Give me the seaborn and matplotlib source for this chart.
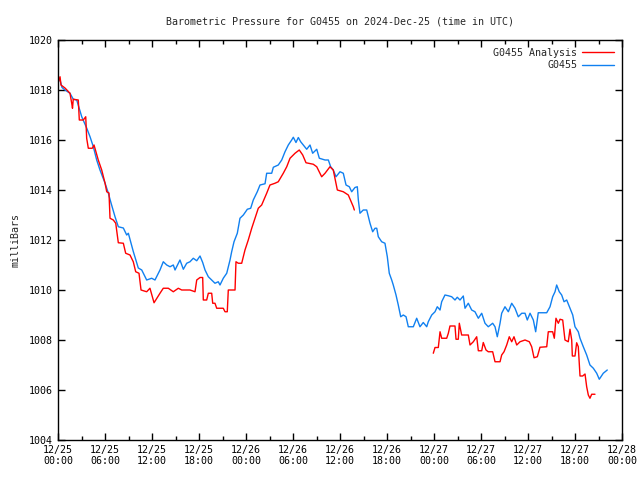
import numpy as np
import pandas as pd
import matplotlib
matplotlib.use("Agg")
import matplotlib.pyplot as plt
import matplotlib.dates as mdates
import seaborn as sns

# Hours since 2024-12-25 00:00 UTC and pressure in mb
obs_hours = [0.0, 0.26, 0.51, 0.89, 1.53, 1.95, 2.39, 3.03, 3.66, 4.09, 4.51, 4.94, 5.36, 6.0, 6.42,
             6.77, 7.28, 7.70, 8.34, 8.77, 8.98, 9.62, 10.25, 10.69, 11.32, 11.96, 12.38, 13.02, 13.44,
             13.88, 14.30, 14.72, 14.94, 15.57, 16.0, 16.43, 16.85, 17.27, 17.71, 18.13, 18.47, 18.77,
             19.19, 19.62, 20.04, 20.46, 20.68, 21.10, 21.54, 21.96, 22.17, 22.47, 22.89, 23.23, 23.66,
             24.17, 24.60, 24.93, 25.44, 25.79, 26.43, 26.64, 27.28, 27.49, 28.12, 28.56, 28.98, 29.40,
             29.83, 30.04, 30.38, 30.68, 30.98, 31.31, 31.75, 32.17, 32.51, 33.03, 33.36, 34.09, 34.51,
             34.81, 35.14, 35.49, 36.0, 36.42, 36.77, 37.19, 37.49, 37.91, 38.21, 38.34, 38.55, 38.97,
             39.41, 39.83, 40.17, 40.47, 40.69, 40.89, 41.32, 41.74, 42.04, 42.29, 42.60, 42.80, 43.15,
             43.44, 43.75, 44.08, 44.43, 44.72, 45.36, 45.79, 46.21, 46.63, 47.07, 47.27, 47.71, 48.13,
             48.42, 48.77, 48.98, 49.40, 49.83, 50.26, 50.68, 50.97, 51.32, 51.74, 51.96, 52.38, 52.81,
             53.23, 53.66, 54.09, 54.51, 54.93, 55.49, 55.79, 56.08, 56.43, 56.64, 57.06, 57.49, 57.92,
             58.34, 58.76, 59.20, 59.62, 59.91, 60.26, 60.68, 60.98, 61.31, 62.39, 62.81, 63.15, 63.45,
             63.66, 63.99, 64.30, 64.60, 64.94, 65.36, 65.71, 66.0, 66.42, 66.64, 67.06, 67.49, 67.91,
             68.34, 68.77, 69.10, 69.61, 70.12]
obs_mb = [1018.45, 1018.4, 1018.1, 1018.0, 1017.87, 1017.63, 1017.6, 1016.93, 1016.48, 1016.13, 1015.73,
          1015.2, 1014.8, 1014.28, 1013.88, 1013.48, 1012.93, 1012.53, 1012.48, 1012.2, 1012.27, 1011.53,
          1010.88, 1010.8, 1010.4, 1010.47, 1010.4, 1010.8, 1011.13, 1011.0, 1010.93, 1011.0, 1010.8,
          1011.2, 1010.83, 1011.07, 1011.13, 1011.27, 1011.17, 1011.36, 1011.1, 1010.8, 1010.53, 1010.4,
          1010.27, 1010.33, 1010.2, 1010.47, 1010.67, 1011.2, 1011.53, 1011.93, 1012.27, 1012.87, 1013.0,
          1013.23, 1013.27, 1013.6, 1013.93, 1014.2, 1014.25, 1014.67, 1014.67, 1014.91, 1015.0, 1015.2,
          1015.53, 1015.8, 1016.0, 1016.11, 1015.9, 1016.1, 1015.93, 1015.8, 1015.63, 1015.8, 1015.47,
          1015.63, 1015.27, 1015.2, 1015.2, 1014.93, 1014.8, 1014.53, 1014.73, 1014.67, 1014.2, 1014.13,
          1013.93, 1014.1, 1014.13, 1013.6, 1013.07, 1013.2, 1013.2, 1012.67, 1012.33, 1012.47, 1012.47,
          1012.13, 1011.93, 1011.87, 1011.33, 1010.67, 1010.4, 1010.2, 1009.8, 1009.4, 1008.93, 1009.0,
          1008.93, 1008.53, 1008.53, 1008.87, 1008.53, 1008.7, 1008.53, 1008.73, 1009.0, 1009.13, 1009.33,
          1009.2, 1009.53, 1009.8, 1009.77, 1009.73, 1009.6, 1009.71, 1009.6, 1009.76, 1009.27, 1009.47,
          1009.2, 1009.13, 1008.87, 1009.07, 1008.67, 1008.53, 1008.67, 1008.53, 1008.13, 1008.67, 1009.07,
          1009.33, 1009.13, 1009.47, 1009.27, 1008.93, 1009.07, 1009.07, 1008.8, 1009.07, 1008.8, 1008.33,
          1009.09, 1009.09, 1009.33, 1009.73, 1009.93, 1010.2, 1009.93, 1009.8, 1009.53, 1009.6, 1009.27,
          1009.0, 1008.53, 1008.33, 1008.07, 1007.73, 1007.4, 1007.0, 1006.87, 1006.67, 1006.43, 1006.67,
          1006.8]

ana1_hours = [0.0, 0.26, 0.38, 0.89, 1.53, 1.75, 1.85, 1.95, 2.59, 2.72, 3.23, 3.54, 3.66, 3.87, 4.38,
              4.60, 5.14, 5.58, 6.0, 6.22, 6.51, 6.64, 7.06, 7.37, 7.70, 8.34, 8.64, 9.19, 9.61, 9.92,
              10.34, 10.60, 11.32, 11.74, 12.26, 13.02, 13.44, 14.08, 14.72, 15.36, 15.79, 16.85, 17.49,
              17.71, 18.13, 18.47, 18.55, 18.98, 19.19, 19.62, 19.75, 20.04, 20.26, 21.10, 21.32, 21.61,
              21.74, 22.60, 22.72, 23.02, 23.45, 23.87, 24.29, 24.73, 25.15, 25.57, 26.0, 26.64, 27.06,
              27.70, 28.12, 28.76, 29.20, 29.62, 30.26, 30.80, 31.24, 31.66, 32.59, 33.03, 33.66, 34.09,
              34.72, 35.14, 35.66, 36.42, 37.06, 37.70, 37.83]
ana1_mb = [1018.27, 1018.53, 1018.2, 1018.08, 1017.87, 1017.47, 1017.27, 1017.63, 1017.6, 1016.8, 1016.8,
           1016.93, 1016.07, 1015.67, 1015.67, 1015.8, 1015.2, 1014.8, 1014.28, 1013.93, 1013.88, 1012.87,
           1012.8, 1012.67, 1011.89, 1011.87, 1011.47, 1011.4, 1011.13, 1010.73, 1010.67, 1010.0, 1009.93,
           1010.07, 1009.49, 1009.87, 1010.07, 1010.07, 1009.93, 1010.07, 1010.0, 1010.0, 1009.93, 1010.4,
           1010.5, 1010.5, 1009.6, 1009.6, 1009.87, 1009.87, 1009.47, 1009.47, 1009.27, 1009.27, 1009.13,
           1009.13, 1010.0, 1010.0, 1011.13, 1011.07, 1011.07, 1011.6, 1012.0, 1012.47, 1012.87, 1013.27,
           1013.4, 1013.87, 1014.2, 1014.27, 1014.33, 1014.67, 1014.93, 1015.27, 1015.47, 1015.6, 1015.4,
           1015.09, 1015.03, 1014.93, 1014.53, 1014.67, 1014.93, 1014.8, 1014.0, 1013.93, 1013.8, 1013.33,
           1013.2]

ana2_hours = [47.91, 48.13, 48.55, 48.77, 48.98, 49.62, 49.83, 50.04, 50.68, 50.81, 51.10, 51.23, 51.53,
              51.74, 52.38, 52.60, 53.02, 53.45, 53.66, 54.09, 54.29, 54.64, 54.93, 55.49, 55.79, 56.43,
              56.64, 56.94, 57.28, 57.61, 57.92, 58.21, 58.56, 58.98, 59.62, 60.17, 60.47, 60.77, 61.19,
              61.53, 62.39, 62.59, 63.15, 63.36, 63.57, 63.87, 64.09, 64.43, 64.60, 64.72, 65.14, 65.36,
              65.58, 65.66, 66.0, 66.21, 66.42, 66.64, 66.98, 67.28, 67.49, 67.70, 67.91, 68.13, 68.55]
ana2_mb = [1007.47, 1007.7, 1007.7, 1008.33, 1008.07, 1008.07, 1008.27, 1008.56, 1008.56, 1008.03, 1008.03,
           1008.67, 1008.2, 1008.2, 1008.2, 1007.8, 1007.93, 1008.13, 1007.57, 1007.57, 1007.9, 1007.6,
           1007.53, 1007.53, 1007.13, 1007.13, 1007.4, 1007.53, 1007.8, 1008.13, 1007.93, 1008.13, 1007.8,
           1007.93, 1008.0, 1007.93, 1007.73, 1007.29, 1007.33, 1007.71, 1007.73, 1008.33, 1008.33, 1008.07,
           1008.87, 1008.67, 1008.83, 1008.8, 1008.33, 1008.0, 1007.93, 1008.43, 1008.0, 1007.36, 1007.36,
           1007.89, 1007.73, 1006.56, 1006.56, 1006.64, 1006.13, 1005.8, 1005.67, 1005.83, 1005.83]

start = pd.Timestamp("2024-12-25 00:00")


def to_df(hours, mb):
    return pd.DataFrame({"time": start + pd.to_timedelta(hours, unit="h"), "mb": mb})


obs = to_df(obs_hours, obs_mb)
ana1 = to_df(ana1_hours, ana1_mb)
ana2 = to_df(ana2_hours, ana2_mb)

sns.set_style("ticks")
plt.rcParams["font.family"] = ["DejaVu Sans Mono"]
fs = 7.2

fig = plt.figure(figsize=(6.4, 4.8), dpi=100)
ax = fig.add_axes([58 / 640, 40 / 480, 564 / 640, 400 / 480])

blue = "#1080f0"
red = "#ff0000"
sns.lineplot(data=obs, x="time", y="mb", color=blue, lw=1, ax=ax, estimator=None, sort=False)
sns.lineplot(data=ana1, x="time", y="mb", color=red, lw=1, ax=ax, estimator=None, sort=False)
sns.lineplot(data=ana2, x="time", y="mb", color=red, lw=1, ax=ax, estimator=None, sort=False)

ax.set_xlim(start, start + pd.Timedelta(hours=72))
ax.set_ylim(1004, 1020)
ax.set_yticks(np.arange(1004, 1021, 2))
ax.xaxis.set_major_locator(mdates.HourLocator(byhour=[0, 6, 12, 18]))
ax.xaxis.set_minor_locator(mdates.HourLocator(byhour=[3, 9, 15, 21]))
ax.xaxis.set_major_formatter(mdates.DateFormatter("%m/%d\n%H:%M"))
ax.tick_params(which="both", direction="in", top=True, right=True, labelsize=fs, colors="black")
ax.tick_params(which="major", length=5, width=1)
ax.tick_params(which="minor", length=3, width=1)
for s in ax.spines.values():
    s.set_linewidth(1)
    s.set_color("black")

ax.set_xlabel("")
ax.set_ylabel("milliBars", fontsize=fs, labelpad=6)
ax.set_title("Barometric Pressure for G0455 on 2024-Dec-25 (time in UTC)", fontsize=fs, pad=11)

handles = [plt.Line2D([], [], color=red, lw=1), plt.Line2D([], [], color=blue, lw=1)]
ax.legend(handles, ["G0455 Analysis", "G0455"], loc="upper right", frameon=False,
          markerfirst=False, fontsize=fs, handlelength=3.2, handletextpad=0.5,
          labelspacing=0.25, borderaxespad=0.4)

plt.savefig("out.png", dpi=100)
